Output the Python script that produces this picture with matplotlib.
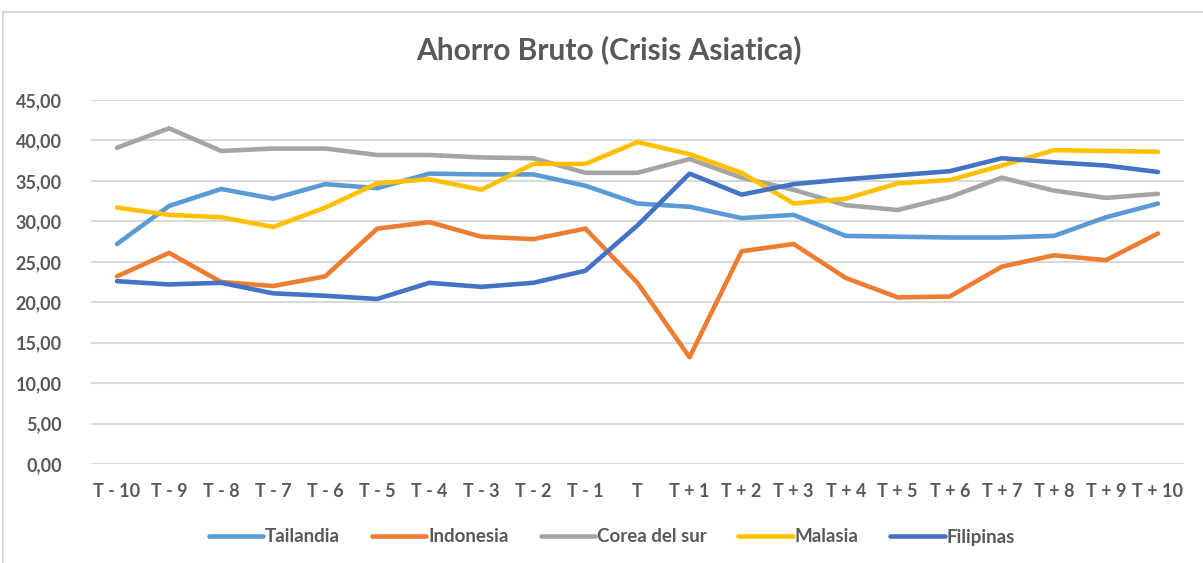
import matplotlib.pyplot as plt
from matplotlib.patches import Rectangle
from matplotlib.ticker import FuncFormatter, MultipleLocator

plt.rcParams['font.family'] = ['Lato', 'DejaVu Sans']

periodos = ['T - 10', 'T - 9', 'T - 8', 'T - 7', 'T - 6', 'T - 5', 'T - 4', 'T - 3', 'T - 2', 'T - 1',
            'T', 'T + 1', 'T + 2', 'T + 3', 'T + 4', 'T + 5', 'T + 6', 'T + 7', 'T + 8', 'T + 9', 'T + 10']

tailandia = [27.2, 31.9, 34.0, 32.8, 34.6, 34.1, 35.9, 35.8, 35.8, 34.4,
             32.2, 31.8, 30.4, 30.8, 28.2, 28.1, 28.0, 28.0, 28.2, 30.5, 32.2]
indonesia = [23.2, 26.1, 22.5, 22.0, 23.2, 29.1, 29.9, 28.1, 27.8, 29.1,
             22.4, 13.2, 26.3, 27.2, 23.0, 20.6, 20.7, 24.4, 25.8, 25.2, 28.5]
corea = [39.1, 41.5, 38.7, 39.0, 39.0, 38.2, 38.2, 37.9, 37.8, 36.0,
         36.0, 37.7, 35.4, 33.9, 32.0, 31.4, 33.0, 35.4, 33.8, 32.9, 33.4]
malasia = [31.7, 30.8, 30.5, 29.3, 31.7, 34.7, 35.2, 33.9, 37.1, 37.1,
           39.8, 38.3, 36.0, 32.2, 32.8, 34.7, 35.1, 36.9, 38.8, 38.7, 38.6]
filipinas = [22.6, 22.2, 22.4, 21.1, 20.8, 20.4, 22.4, 21.9, 22.4, 23.9,
             29.5, 35.9, 33.3, 34.6, 35.2, 35.7, 36.2, 37.8, 37.3, 36.9, 36.1]

series = [
    ('Tailandia', tailandia, '#5B9BD5'),
    ('Indonesia', indonesia, '#ED7D31'),
    ('Corea del sur', corea, '#A5A5A5'),
    ('Malasia', malasia, '#FFC000'),
    ('Filipinas', filipinas, '#4472C4'),
]

texto = '#595959'
W, H = 1203, 563
fig = plt.figure(figsize=(W / 100, H / 100), dpi=100)
fig.patches.append(Rectangle((3 / W, -0.1), 1.2, 1.1 - 12 / H, transform=fig.transFigure,
                             fill=False, edgecolor='#D9D9D9', linewidth=1.5))

ax = fig.add_axes([91 / W, 1 - 464 / H, 1093 / W, 364 / H])
x = range(len(periodos))
for nombre, valores, color in series:
    ax.plot(x, valores, color=color, linewidth=3.3, label=nombre, solid_capstyle='round',
            solid_joinstyle='round')

ax.set_xlim(-0.5, len(periodos) - 0.5)
ax.set_ylim(0, 45)
ax.yaxis.set_major_locator(MultipleLocator(5))
ax.yaxis.set_major_formatter(FuncFormatter(lambda v, p: f'{v:.2f}'.replace('.', ',')))
ax.set_xticks(list(x))
ax.set_xticklabels(periodos)
ax.grid(axis='y', color='#D9D9D9', linewidth=1.5)
ax.set_axisbelow(True)
for s in ax.spines.values():
    s.set_visible(False)
ax.tick_params(length=0, colors=texto, labelsize=13)
ax.tick_params(axis='y', pad=21)
ax.tick_params(axis='x', pad=14)
for lbl in ax.get_xticklabels() + ax.get_yticklabels():
    lbl.set_fontweight('bold')

fig.text(609 / W, 1 - 50 / H, 'Ahorro Bruto (Crisis Asiatica)', ha='center', va='center',
         fontsize=21.5, fontweight='bold', color=texto)

leg = fig.legend(loc='center', bbox_to_anchor=(612 / W, 1 - 537 / H), ncol=5, frameon=False,
                 handlelength=2.9, handletextpad=0.1, columnspacing=1.7, fontsize=13.5)
for t in leg.get_texts():
    t.set_color(texto)
    t.set_fontweight('bold')

fig.savefig('out.png', dpi=100)
